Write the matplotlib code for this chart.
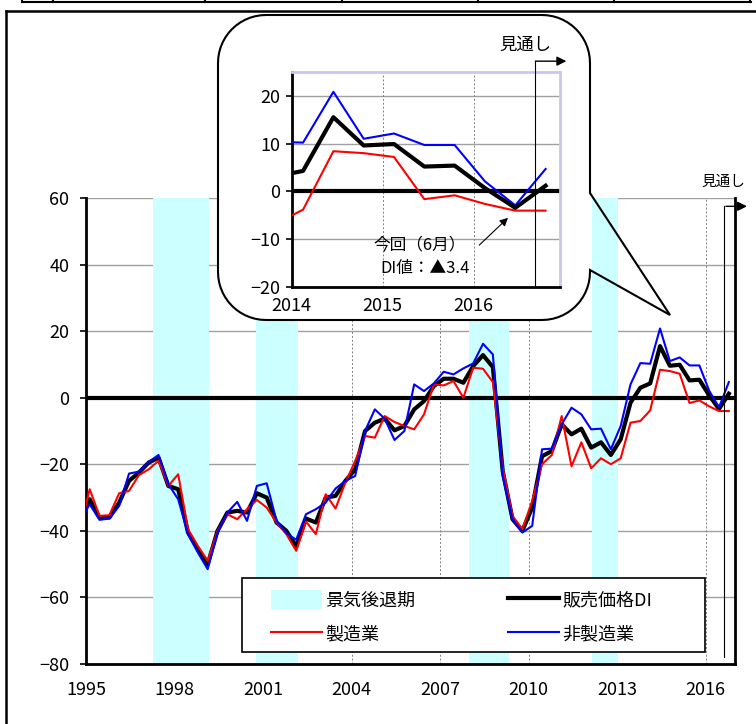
import numpy as np
import matplotlib
matplotlib.use('Agg')
from matplotlib import pyplot as plt
from matplotlib.patches import Polygon, Patch, Rectangle
from matplotlib.lines import Line2D

plt.rcParams['font.family'] = ['Noto Sans CJK JP', 'DejaVu Sans']

# 調査月（2月・6月・10月）、1994年10月〜2016年10月
years = [1994] + [y for y in range(1995, 2017) for _ in range(3)]
months = [10] + [2, 6, 10] * 22

# 販売価格DI
di_all = [-35.8,
          -30.5, -36.0, -36.0, -31.5, -25.0, -22.5, -19.5, -18.0, -26.5,
          -27.5, -40.5, -45.5, -50.0, -40.0, -34.5, -34.0, -34.5, -28.7,
          -30.0, -37.5, -40.0, -44.7, -36.3, -37.5, -30.0, -29.5, -25.0,
          -21.5, -10.0, -7.5, -6.3, -9.8, -8.5, -3.5, -1.0, 3.5,
          5.7, 5.7, 4.5, 9.5, 12.8, 9.2, -22.0, -36.5, -40.0,
          -33.0, -17.6, -16.0, -8.0, -11.0, -9.3, -15.0, -13.4, -17.2,
          -12.5, -1.5, 3.0, 4.3, 15.5, 9.6, 9.9, 5.2, 5.4,
          0.7, -3.4, 1.2]
# 製造業
di_mfg = [-39.5,
          -27.5, -35.5, -35.3, -28.7, -28.0, -23.3, -21.5, -19.0, -26.5,
          -23.0, -39.5, -44.5, -49.0, -40.0, -35.0, -36.5, -33.5, -30.7,
          -33.0, -37.5, -41.0, -46.0, -37.2, -41.0, -29.0, -33.3, -25.5,
          -19.0, -11.5, -12.0, -5.5, -7.3, -8.5, -9.5, -5.0, 4.0,
          3.7, 5.0, 0.0, 9.0, 8.7, 4.7, -21.0, -35.5, -39.5,
          -31.0, -20.0, -17.2, -5.5, -20.6, -13.4, -21.2, -18.2, -20.0,
          -18.2, -7.5, -7.0, -3.8, 8.4, 8.0, 7.2, -1.6, -0.8,
          -2.6, -4.0, -4.0]
# 非製造業
di_nonmfg = [-37.3,
             -32.0, -36.7, -36.3, -32.5, -22.8, -22.2, -19.3, -17.2, -26.0,
             -30.5, -41.0, -46.5, -51.5, -40.5, -34.5, -31.3, -37.0, -26.5,
             -25.7, -37.0, -40.7, -42.7, -35.0, -33.5, -31.5, -27.3, -25.0,
             -23.5, -10.0, -3.5, -6.3, -12.7, -10.0, 4.0, 2.0, 4.3,
             7.8, 7.0, 8.8, 10.3, 16.2, 13.0, -23.5, -36.5, -40.5,
             -38.5, -15.5, -15.3, -8.0, -3.0, -5.0, -9.5, -9.3, -15.5,
             -8.5, 4.0, 10.4, 10.2, 20.8, 11.0, 12.1, 9.7, 9.7,
             2.1, -2.9, 4.7]

# 景気後退期
rec_start = [1997.27, 2000.75, 2007.98, 2012.14]
rec_end = [1999.17, 2002.18, 2009.34, 2013.02]

xticks = [1995, 1998, 2001, 2004, 2007, 2010, 2013, 2016]
yticks = [-80, -60, -40, -20, 0, 20, 40, 60]

x = np.array(years) + (np.array(months) - 0.5) / 12.0

W, H = 756, 724
fig = plt.figure(figsize=(W / 100, H / 100), dpi=100)

def fx(px):
    return px / W

def fy(py):
    return 1 - py / H

# ---- メインチャート
ax = fig.add_axes([fx(86), fy(664), fx(735) - fx(86), fy(198) - fy(664)])
for s, e in zip(rec_start, rec_end):
    ax.axvspan(s, e, color='#ccffff', lw=0, zorder=1.5)
for yv in yticks:
    if yv != 0:
        ax.axhline(yv, color='#a0a0a0', lw=1, zorder=1)
for xv in xticks[1:]:
    ax.axvline(xv, color='#808080', lw=0.7, ls=(0, (2, 2)), zorder=1)
ax.axhline(0, color='black', lw=3, zorder=2)
ax.plot(x, di_all, color='black', lw=3, zorder=3)
ax.plot(x, di_mfg, color='red', lw=1.5, zorder=4)
ax.plot(x, di_nonmfg, color='blue', lw=1.5, zorder=5)
ax.set_xlim(1995, 2017.0)
ax.set_ylim(-80, 60)
ax.set_xticks(xticks)
ax.set_yticks(yticks)
ax.tick_params(axis='y', length=4, width=1.2, pad=8, labelsize=13)
ax.tick_params(axis='x', length=0, pad=12, labelsize=13)
for sp in ['left', 'bottom', 'right']:
    ax.spines[sp].set_linewidth(2)
ax.spines['top'].set_visible(False)

# 見通し（メイン）
ax.plot([2016.63, 2016.63], [-78, 57.5], color='black', lw=0.8, zorder=6)
ax.annotate('', xy=(2017.5, 57.5), xytext=(2016.6, 57.5),
            arrowprops=dict(arrowstyle='-|>', color='black', lw=1, mutation_scale=14),
            annotation_clip=False)
fig.text(fx(723), fy(182), '見通し', ha='center', va='center', fontsize=10.5)

# 凡例
ax.add_patch(Rectangle((fx(242), fy(652)), fx(705) - fx(242), fy(578) - fy(652),
                       transform=fig.transFigure, facecolor='white', edgecolor='black',
                       lw=1.2, zorder=10, clip_on=False))
handles = [Patch(facecolor='#ccffff', edgecolor='none'),
           Line2D([], [], color='red', lw=1.5),
           Line2D([], [], color='black', lw=3),
           Line2D([], [], color='blue', lw=1.5)]
labels = ['景気後退期', '製造業', '販売価格DI', '非製造業']
leg = ax.legend(handles, labels, ncol=2, loc='center left',
                bbox_to_anchor=(fx(271), fy(617)), bbox_transform=fig.transFigure,
                fontsize=13, frameon=False, handlelength=2.8, handleheight=1.2,
                handletextpad=0.2, columnspacing=5.15, borderpad=0,
                labelspacing=0.8, borderaxespad=0)
leg.set_zorder(11)

# ---- 吹き出し
r = 48
x0, x1, y0, y1 = 218, 590, 15, 320
tail = [(x1, 193), (670, 315), (x1, 270)]
body_a = []
t = np.linspace(np.pi / 2, 0, 15)
body_a += [(x1 - r + r * np.cos(a), y0 + r - r * np.sin(a)) for a in t]
body_b = []
t = np.linspace(0, -np.pi / 2, 15)
body_b += [(x1 - r + r * np.cos(a), y1 - r - r * np.sin(a)) for a in t]
t = np.linspace(-np.pi / 2, -np.pi, 15)
body_b += [(x0 + r + r * np.cos(a), y1 - r - r * np.sin(a)) for a in t]
t = np.linspace(np.pi, np.pi / 2, 15)
body_b += [(x0 + r + r * np.cos(a), y0 + r - r * np.sin(a)) for a in t]

def to_fig(pts):
    return [(fx(px), fy(py)) for px, py in pts]

# 本体（白塗り）
fig.add_artist(Polygon(to_fig(body_a + body_b), closed=True, transform=fig.transFigure,
                       facecolor='white', edgecolor='none', zorder=1))
# しっぽ（網掛けの下）
ax.add_patch(Polygon(to_fig(tail), closed=True, transform=fig.transFigure,
                     facecolor='white', edgecolor='none', zorder=1.2, clip_on=False))
# 輪郭
fig.add_artist(Polygon(to_fig(body_a + tail + body_b), closed=True,
                       transform=fig.transFigure, facecolor='none', edgecolor='black',
                       lw=1.5, zorder=1.1))

# ---- 拡大図
axi = fig.add_axes([fx(291.7), fy(287.3), fx(560) - fx(291.7), fy(71.7) - fy(287.3)])
axi.set_zorder(3)
for yv in [-10, 10, 20]:
    axi.axhline(yv, color='#a0a0a0', lw=1, zorder=1)
for xv in [2015, 2016]:
    axi.axvline(xv, color='#808080', lw=0.7, ls=(0, (2, 2)), zorder=1)
axi.axhline(0, color='black', lw=3, zorder=2)
axi.plot(x, di_nonmfg, color='blue', lw=1.5, zorder=3)
axi.plot(x, di_mfg, color='red', lw=1.5, zorder=3)
axi.plot(x, di_all, color='black', lw=3, zorder=4)
axi.set_xlim(2014, 2016.95)
axi.set_ylim(-20, 25)
axi.set_xticks([2014, 2015, 2016])
axi.set_yticks([-20, -10, 0, 10, 20])
axi.tick_params(axis='y', length=4, width=1.2, pad=4, labelsize=13)
axi.tick_params(axis='x', length=0, pad=7, labelsize=13)
axi.spines['left'].set_linewidth(2)
axi.spines['bottom'].set_linewidth(2)
for sp in ['top', 'right']:
    axi.spines[sp].set_color('#c8c8f0')
    axi.spines[sp].set_linewidth(2)

# 見通し（拡大図）
axi.plot([2016.67, 2016.67], [-20, 27.2], color='black', lw=0.8, clip_on=False, zorder=5)
axi.annotate('', xy=(2017.05, 27.2), xytext=(2016.65, 27.2),
             arrowprops=dict(arrowstyle='-|>', color='black', lw=1, mutation_scale=14),
             annotation_clip=False)
fig.text(fx(525), fy(45), '見通し', ha='center', va='center', fontsize=12.5)

# 今回（6月）
axi.annotate('', xy=(2016.40, -5.1), xytext=(2016.04, -11.6),
             arrowprops=dict(arrowstyle='-|>', color='black', lw=0.8, mutation_scale=12))
axi.text(2015.41, -11.2, '今回（6月）', ha='center', va='center', fontsize=12)
axi.text(2015.47, -16.0, 'DI値：▲3.4', ha='center', va='center', fontsize=12)

# ---- 枠線
fig.add_artist(Line2D([fx(6), fx(756)], [fy(11), fy(11)], color='black', lw=1.8))
fig.add_artist(Line2D([fx(6), fx(6)], [fy(11), fy(724)], color='black', lw=1.8))
fig.add_artist(Line2D([fx(22), fx(751)], [fy(2), fy(2)], color='black', lw=1.5))
for tx in [22, 53, 205, 342, 478, 614, 750]:
    fig.add_artist(Line2D([fx(tx), fx(tx)], [fy(0), fy(2)], color='black', lw=1.5))

plt.savefig('out.png', dpi=100)
